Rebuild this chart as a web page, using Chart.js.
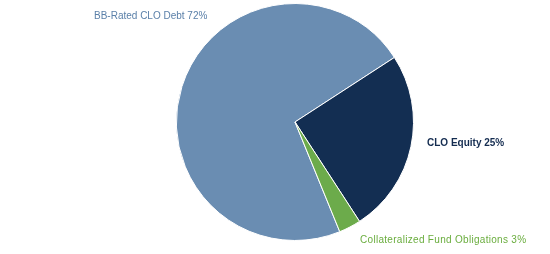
<!DOCTYPE html>
<html>
<head>
<meta charset="utf-8">
<script src="https://cdn.jsdelivr.net/npm/chart.js@4"></script>
<style>
    html, body { margin: 0; padding: 0; background: #ffffff; }
    #wrap { width: 550px; height: 254px; }
</style>
</head>
<body>
<div id="wrap"><canvas id="allocationPie"></canvas></div>
<script>
const categories = ['BB-Rated CLO Debt', 'CLO Equity', 'Collateralized Fund Obligations'];
const shares = [72, 25, 3];
const sliceColors = ['#6a8db2', '#132e52', '#6cab4b'];
const labelColors = ['#5b80a9', '#142c50', '#6aad3e'];

// Label spots relative to pie centre, in pixels (left-aligned text)
const labelSpots = [
    { dx: -201, dy: -106, bold: false, spacing: 0 },
    { dx: 132, dy: 21, bold: true, spacing: 0 },
    { dx: 65, dy: 118, bold: false, spacing: 0.3 }
];

const sliceLabels = {
    id: 'sliceLabels',
    afterDraw(chart) {
        const ctx = chart.ctx;
        const meta = chart.getDatasetMeta(0);
        const values = chart.data.datasets[0].data;
        meta.data.forEach((arc, i) => {
            const spot = labelSpots[i];
            ctx.save();
            ctx.font = (spot.bold ? 'bold ' : '') + '10px "Liberation Sans", Arial, sans-serif';
            ctx.letterSpacing = spot.spacing + 'px';
            ctx.fillStyle = labelColors[i];
            ctx.textAlign = 'left';
            ctx.textBaseline = 'middle';
            ctx.fillText(`${chart.data.labels[i]} ${values[i]}%`, arc.x + spot.dx, arc.y + spot.dy);
            ctx.restore();
        });
    }
};

new Chart(document.getElementById('allocationPie').getContext('2d'), {
    type: 'pie',
    data: {
        labels: categories,
        datasets: [{
            data: shares,
            backgroundColor: sliceColors,
            borderColor: '#ffffff',
            borderWidth: 1
        }]
    },
    options: {
        responsive: true,
        maintainAspectRatio: false,
        animation: false,
        rotation: 157.8,
        layout: { padding: { left: 40, right: 0, top: 3, bottom: 13 } },
        plugins: {
            legend: { display: false },
            tooltip: { enabled: false }
        }
    },
    plugins: [sliceLabels]
});
</script>
</body>
</html>
